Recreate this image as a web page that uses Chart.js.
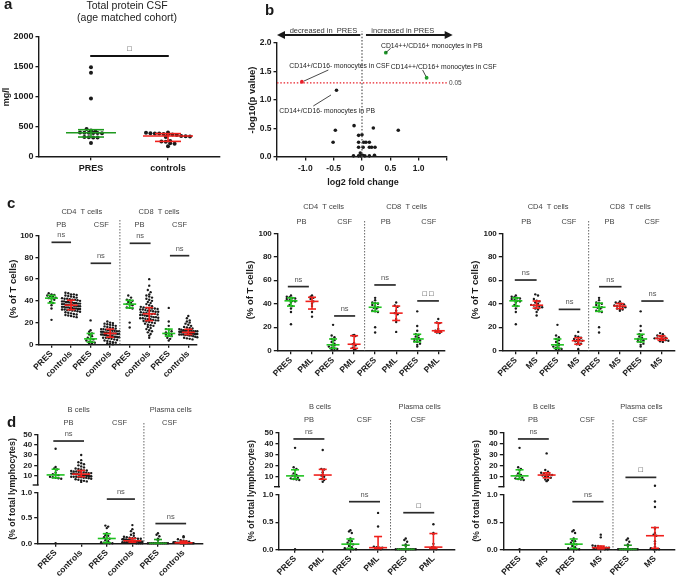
<!DOCTYPE html>
<html>
<head>
<meta charset="utf-8">
<script src="https://cdn.jsdelivr.net/npm/chart.js@4.4.1/dist/chart.umd.min.js"></script>
<style>
html, body { margin: 0; padding: 0; background: #fff; }
#wrap { position: relative; width: 679px; height: 579px; }
#wrap canvas { position: absolute; left: 0; top: 0; }
</style>
</head>
<body>
<div id="wrap"></div>
<script>
// ---------- panel a: total protein CSF ----------
const protCats = ['PRES', 'controls'];
const protPRES = [1490, 1400, 970, 462, 438, 422, 402, 400, 398, 396, 394, 392, 330, 326, 322, 318, 228];
const protCtrl = [405, 400, 390, 385, 385, 380, 375, 370, 360, 345, 340, 335, 330, 260, 255, 250, 225, 215, 175];
const protTicks = [0, 500, 1000, 1500, 2000];

// ---------- panel b: volcano ----------
const volX = [-0.45, -0.14, -0.47, -0.51, 0.20, 0.64, -0.06, 0.00, -0.06, 0.03, 0.07, 0.13, -0.06, 0.02, 0.13, 0.17, 0.23, -0.15, -0.06, -0.02, 0.01, 0.05, 0.13, 0.22, -0.03];
const volY = [1.17, 0.55, 0.47, 0.26, 0.51, 0.47, 0.38, 0.39, 0.26, 0.26, 0.26, 0.26, 0.17, 0.17, 0.17, 0.17, 0.17, 0.02, 0.02, 0.02, 0.03, 0.02, 0.02, 0.03, 0.07];
const volRedX = [-1.06], volRedY = [1.32];
const volGreenX = [0.42, 1.14], volGreenY = [1.83, 1.39];
const volXTicks = [-1.5, -1, -0.5, 0, 0.5, 1, 1.5];
const volYTicks = [0, 0.5, 1, 1.5, 2];
const pCut = 1.3;

// ---------- panel c: T cells ----------
const tTicks = [0, 20, 40, 60, 80, 100];
const catsC1 = ['PRES', 'controls', 'PRES', 'controls', 'PRES', 'controls', 'PRES', 'controls'];
const catsC2 = ['PRES', 'PML', 'PRES', 'PML', 'PRES', 'PML', 'PRES', 'PML'];
const catsC3 = ['PRES', 'MS', 'PRES', 'MS', 'PRES', 'MS', 'PRES', 'MS'];

const presCD4PB = [47, 46, 45.5, 45, 44.5, 44, 43, 42.5, 42, 41, 39, 38, 36, 33, 22.5];
const presCD4CSF = [22, 13, 11.5, 10, 9, 7.5, 6, 5, 4.5, 3.5, 2.5, 2, 1.5, 1, 0.5];
const presCD8PB = [45, 43, 41, 40.5, 40, 39, 38, 37, 36.5, 36, 34, 33.5, 33, 20, 15.5];
const presCD8CSF = [33.5, 21, 17, 14, 13.5, 12, 11, 10, 9.5, 9, 8, 7.5, 6, 5, 3.5];

const ctrlCD4PB = [25, 25.5, 26, 26.5, 27, 27.5, 28, 28.5, 29, 29.5, 30, 30.5, 31, 31, 31.5, 31.5, 32,
  32, 32.5, 32.5, 33, 33, 33.5, 33.5, 34, 34, 34.5, 34.5, 35, 35, 35.5, 35.5, 36,
  36, 36.5, 36.5, 37, 37, 37.5, 37.5, 38, 38, 38.5, 38.5, 39, 39, 39.5, 39.5, 40,
  40.5, 41, 41, 41.5, 42, 42, 42.5, 43, 43.5, 44, 44.5, 45, 45.5, 46, 46, 47, 47.5];
const ctrlCD4CSF = [0, 0.5, 1, 1.5, 2, 2.5, 3, 3.5, 4, 4.5, 5, 5.5, 6, 6, 6.5, 6.5,
  7, 7, 7.5, 7.5, 8, 8, 8.5, 8.5, 9, 9, 9.5, 9.5, 10, 10,
  10, 10.5, 10.5, 11, 11, 11.5, 11.5, 12, 12, 12.5, 12.5, 13, 13, 13.5, 14, 14,
  14.5, 15, 15.5, 16, 16.5, 17, 17.5, 18, 18.5, 19, 19.5, 20, 21];
const ctrlCD8PB = [6, 8, 9.5, 11, 12, 13, 14, 15, 16, 17, 17.5, 18, 19, 19.5, 20, 20.5, 21, 21.5, 22,
  22, 22.5, 23, 23, 23.5, 24, 24, 24.5, 25, 25, 25.5, 26, 26, 26.5, 27, 27, 27.5, 28, 28, 28.5,
  29, 29, 29.5, 30, 30, 30.5, 31, 31, 31.5, 32, 32, 32.5, 33, 33, 33, 33.5, 34, 34.5,
  35, 36, 37, 38, 39, 40, 41, 42, 43, 44, 45, 46, 48, 50, 54, 60];
const ctrlCD8CSF = [4.5, 5, 5.5, 6, 6.5, 7, 7.5, 8, 8, 8.5, 8.5, 9, 9, 9,
  9.5, 9.5, 9.5, 10, 10, 10, 10.5, 10.5, 10.5, 11, 11, 11,
  11, 11.5, 11.5, 11.5, 12, 12, 12, 12.5, 12.5, 13, 13, 13,
  13.5, 14, 14.5, 15, 15.5, 16, 17, 18, 19, 20, 21, 22, 24, 26];

const pmlCD4PB = [47, 46, 45, 44, 42, 40, 38, 33, 29];
const pmlCD4CSF = [13.5, 13, 12.5, 6.5, 5.5, 4.5, 2.5, 1.5, 1];
const pmlCD8PB = [41, 38.5, 37.5, 34, 32, 31, 27, 24.5, 16];
const pmlCD8CSF = [27, 24, 23.5, 18.5, 17, 16.5, 16, 15.5, 15];

const msCD4PB = [48, 47, 44, 42.5, 42, 41, 40, 39, 38.5, 38, 37.5, 37, 36, 35, 33, 30];
const msCD4CSF = [16, 12.5, 12, 11, 10, 9, 9, 8.5, 8, 7, 6, 5.5, 5, 1.5, 0.5];
const msCD8PB = [42, 41, 40.5, 40, 39.5, 38.5, 38, 38, 37.5, 37, 36, 35.5, 35, 34];
const msCD8CSF = [15, 14, 13, 12.5, 12, 11, 10.5, 10.5, 10, 9.5, 9, 8.5, 8, 7.5];

// ---------- panel d: B cells / plasma cells ----------
const bTopTicks = [10, 20, 30, 40, 50];
const bBotTicks = [0, 0.5, 1];
const catsD1 = ['PRES', 'controls', 'PRES', 'controls', 'PRES', 'controls'];
const catsD2 = ['PRES', 'PML', 'PRES', 'PML', 'PRES', 'PML'];
const catsD3 = ['PRES', 'MS', 'PRES', 'MS', 'PRES', 'MS'];

const presBPB = [36, 18.5, 17, 16, 13, 11.5, 11, 10.5, 9, 8.5, 8, 7.5, 7, 0];
const presBCSF = [0.35, 0.33, 0.3, 0.2, 0.16, 0.15, 0.12, 0.1, 0.09, 0.06, 0.04, 0.02, 0.01, 0, 0, 0];
const presPlCSF = [0.2, 0.17, 0.14, 0.09, 0.06, 0, 0, 0, 0, 0, 0, 0, 0, 0, 0, 0, 0];

const ctrlBPB = [4, 4.5, 5, 5.5, 6, 6.5, 7, 7.5, 8, 8, 8.5, 8.5, 9, 9, 9, 9.5, 9.5, 10, 10, 10.5,
  10.5, 11, 11, 11, 11.5, 11.5, 12, 12, 12, 12.5, 12.5, 13, 13, 13.5, 13.5, 14, 14, 14.5, 15, 15,
  16, 16.5, 17, 18, 19, 20, 21, 22, 23, 25, 30];
const ctrlBCSF = [0, 0, 0, 0, 0.01, 0.01, 0.01, 0.02, 0.02, 0.02, 0.02, 0.03, 0.03, 0.03, 0.03, 0.04, 0.04,
  0.04, 0.04, 0.05, 0.05, 0.05, 0.05, 0.06, 0.06, 0.06, 0.07, 0.07, 0.07, 0.08, 0.08, 0.09, 0.09, 0.1,
  0.1, 0.11, 0.12, 0.13, 0.15, 0.17, 0.2, 0.24, 0.28, 0.36];
const ctrlPlCSF = [0.14, 0.12, 0.08, 0.06, 0.05, 0.04, 0.03, 0.02, 0.02, 0.01, 0.01, 0.01, 0, 0, 0, 0, 0, 0, 0, 0, 0, 0];

const pmlBPB = [34, 17, 16.5, 14, 12, 11, 10, 8, 7, 5.5];
const pmlBCSF = [0.67, 0.42, 0.05, 0.04, 0.03, 0.03, 0.02, 0.01, 0];
const pmlPlCSF = [0.46, 0.3, 0.28, 0.1, 0.04, 0.03, 0.02, 0.01, 0];

const msBPB = [31, 16, 14.5, 13.5, 13, 12, 12, 11.5, 11, 10.5, 10, 9, 7.5, 7, 6];
const msBCSF = [0.27, 0.22, 0.07, 0.06, 0.06, 0.05, 0.04, 0.03, 0.03, 0.02, 0.02, 0.01, 0.01, 0, 0];
const msPlCSF = [1.9, 0.88, 0.78, 0.4, 0.38, 0.3, 0.27, 0.25, 0.15, 0.1, 0.05, 0.02, 0, 0, 0];

// ---------- drawing ----------
const W = 679, H = 579;
const FONT = '"Liberation Sans", Arial, sans-serif';
const GREEN = '#1fc21f', DKGREEN = '#1f9a1f', RED = '#f0201c', INK = '#1a1a1a', GREY = '#444';
const wrap = document.getElementById('wrap');

function quant(vals, p) {
  const s = vals.slice().sort((a, b) => a - b), n = s.length;
  let pos = p * (n + 1) - 1;
  pos = Math.min(Math.max(pos, 0), n - 1);
  const lo = Math.floor(pos), hi = Math.ceil(pos);
  return s[lo] + (s[hi] - s[lo]) * (pos - lo);
}

// simple row-based beeswarm, offsets in pixels turned back into x units
function swarm(vals, cx, pxX, pxY, r, maxHalf) {
  const step = 2 * r + 0.4;
  const rows = new Map();
  vals.slice().sort((a, b) => b - a).forEach(v => {
    const k = Math.round(v * pxY / step);
    if (!rows.has(k)) rows.set(k, []);
    rows.get(k).push(v);
  });
  const pts = [];
  rows.forEach(row => {
    const n = row.length;
    let sp = step;
    if (n > 1 && (n - 1) * sp / 2 > maxHalf) sp = 2 * maxHalf / (n - 1);
    row.forEach((v, j) => pts.push({x: cx + (j - (n - 1) / 2) * sp / pxX, y: v}));
  });
  return pts;
}

function seg(ctx, x1, y1, x2, y2) {
  ctx.beginPath(); ctx.moveTo(x1, y1); ctx.lineTo(x2, y2); ctx.stroke();
}

function text(ctx, s, x, y, size, opt = {}) {
  ctx.save();
  ctx.font = (opt.bold ? 'bold ' : '') + size + 'px ' + FONT;
  ctx.fillStyle = opt.color || INK;
  ctx.textAlign = opt.align || 'center';
  ctx.textBaseline = opt.base || 'middle';
  ctx.translate(x, y);
  if (opt.rot) ctx.rotate(opt.rot);
  ctx.fillText(s, 0, 0);
  ctx.restore();
}

function deco(c, o) {
  const ctx = c.ctx;
  const X = v => c.scales.x.getPixelForValue(v);
  const Y = v => c.scales.y.getPixelForValue(v);
  const keep = o.keep || (() => true);
  ctx.save();
  (o.groups || []).forEach(g => {
    const m = quant(g.vals, 0.5);
    if (!keep(m)) return;
    const q1 = Math.max(quant(g.vals, 0.25), o.yr[0]);
    const q3 = Math.min(quant(g.vals, 0.75), o.yr[1]);
    const x = X(g.x);
    ctx.strokeStyle = g.col; ctx.lineWidth = 1.6;
    seg(ctx, x - o.mw, Y(m), x + o.mw, Y(m));
    seg(ctx, x, Y(q1), x, Y(q3));
    seg(ctx, x - o.cw, Y(q1), x + o.cw, Y(q1));
    seg(ctx, x - o.cw, Y(q3), x + o.cw, Y(q3));
  });
  (o.brackets || []).forEach(b => {
    ctx.strokeStyle = o.bcol || '#2a2a2a'; ctx.lineWidth = o.bw || 1.7;
    seg(ctx, X(b.a), Y(b.y), X(b.b), Y(b.y));
    text(ctx, b.t, (X(b.a) + X(b.b)) / 2, Y(b.y) - 7, 7.5, {color: b.t === 'ns' ? '#555' : INK});
  });
  if (o.draw) o.draw(ctx, X, Y);
  ctx.restore();
}

function plot(o) {
  const cv = document.createElement('canvas');
  cv.width = W; cv.height = H;
  wrap.appendChild(cv);
  const A = o.area, showX = !!o.xl;
  const yw = Math.min(45, A.l);
  const xh = showX ? Math.min(45, H - A.b) : 0;
  const xfont = {family: FONT, size: o.xfs || 8.5, weight: 'bold'};
  const yfont = {family: FONT, size: o.yfs || 8, weight: 'bold'};
  const grid = {display: true, drawOnChartArea: false, drawTicks: true, tickLength: 3.5, color: INK, lineWidth: 1.3};
  const border = {color: INK, width: 1.4};
  const pxX = (A.r - A.l) / (o.xr[1] - o.xr[0]);
  const pxY = (A.b - A.t) / (o.yr[1] - o.yr[0]);
  const keep = o.keep || (() => true);
  const sets = (o.groups || []).map(g => ({
    data: swarm(g.vals.filter(keep), g.x, pxX, pxY, o.r, o.half),
    pointRadius: o.r, backgroundColor: INK, borderWidth: 0, clip: false
  })).concat(o.sets || []);
  return new Chart(cv, {
    type: 'scatter',
    data: {datasets: sets},
    options: {
      responsive: false, animation: false, devicePixelRatio: 1, events: [],
      layout: {padding: {left: A.l - yw, top: A.t, right: W - A.r, bottom: H - A.b - xh}},
      plugins: {legend: {display: false}, tooltip: {enabled: false}},
      scales: {
        x: {
          type: 'linear', display: showX, min: o.xr[0], max: o.xr[1],
          afterFit: s => { s.height = xh; },
          afterBuildTicks: s => { s.ticks = o.xt.map(v => ({value: v})); },
          ticks: {autoSkip: false, maxRotation: o.rot || 0, minRotation: o.rot || 0, padding: o.xpad ?? 1,
                  color: INK, font: xfont, callback: (v, i) => (o.xl ? o.xl[i] : '')},
          grid, border
        },
        y: {
          type: 'linear', min: o.yr[0], max: o.yr[1],
          afterFit: s => { s.width = yw; },
          afterBuildTicks: s => { s.ticks = o.yt.map(v => ({value: v})); },
          ticks: {padding: 2, color: INK, font: yfont, callback: v => o.yfmt(v)},
          grid, border
        }
      }
    },
    plugins: [{id: 'deco', afterDatasetsDraw: c => deco(c, o)}]
  });
}

// ---- panel a ----
plot({
  area: {l: 39, t: 36.7, r: 220, b: 156.7},
  xr: [0.325, 2.675], yr: [0, 2000], xt: [1, 2], xl: protCats, rot: 0, xpad: 3, xfs: 9, yfs: 9,
  yt: protTicks, yfmt: v => String(v),
  r: 2, half: 26, mw: 25, cw: 13,
  groups: [{x: 1, vals: protPRES, col: DKGREEN}, {x: 2, vals: protCtrl, col: RED}],
  brackets: [{a: 0.99, b: 2.01, y: 1680, t: '□'}], bcol: '#111', bw: 2,
  draw(ctx, X, Y) {
    text(ctx, 'a', 4, 9, 15, {bold: true, align: 'left', base: 'alphabetic'});
    text(ctx, 'Total protein CSF', 127, 6.5, 10.5, {color: '#222'});
    text(ctx, '(age matched cohort)', 127, 18.5, 10.5, {color: '#222'});
    text(ctx, 'mg/l', 7, 97, 9, {bold: true, rot: -Math.PI / 2});
  }
});

// ---- panel b ----
plot({
  area: {l: 277, t: 43, r: 447, b: 157},
  xr: [-1.5, 1.5], yr: [0, 2], xt: volXTicks, rot: 0, xpad: 3, xfs: 8.5, yfs: 8.5,
  xl: volXTicks.map(v => (Math.abs(v) === 1.5 ? '' : v === 0 ? '0' : v.toFixed(1))),
  yt: volYTicks, yfmt: v => v.toFixed(1),
  sets: [
    {data: volX.map((x, i) => ({x, y: volY[i]})), pointRadius: 1.8, backgroundColor: INK, borderWidth: 0, clip: false},
    {data: volRedX.map((x, i) => ({x, y: volRedY[i]})), pointRadius: 1.9, backgroundColor: '#e8202a', borderWidth: 0, clip: false},
    {data: volGreenX.map((x, i) => ({x, y: volGreenY[i]})), pointRadius: 1.9, backgroundColor: '#1e9a2a', borderWidth: 0, clip: false}
  ],
  draw(ctx, X, Y) {
    ctx.lineWidth = 1.2;
    ctx.setLineDash([1.5, 1.8]);
    ctx.strokeStyle = '#e8202a';
    seg(ctx, X(-1.5), Y(pCut), X(1.5), Y(pCut));
    ctx.strokeStyle = '#555';
    seg(ctx, X(0), Y(0), X(0), Y(2.21));
    ctx.setLineDash([]);
    text(ctx, '0.05', X(1.5) + 2, Y(pCut), 6.5, {color: GREY, align: 'left'});
    // direction arrows
    ctx.fillStyle = INK; ctx.strokeStyle = INK;
    const ay = Y(2.14);
    [[-0.03, -1.5], [0.07, 1.6]].forEach(([a, b]) => {
      const x1 = X(a), x2 = X(b), d = Math.sign(x2 - x1);
      ctx.lineWidth = 2;
      seg(ctx, x1, ay, x2 - d * 6, ay);
      ctx.beginPath(); ctx.moveTo(x2, ay); ctx.lineTo(x2 - d * 8, ay - 4); ctx.lineTo(x2 - d * 8, ay + 4); ctx.closePath(); ctx.fill();
    });
    text(ctx, 'decreased in  PRES', X(-0.68), Y(2.216), 7.5, {color: '#333'});
    text(ctx, 'increased in PRES', X(0.72), Y(2.216), 7.5, {color: '#333'});
    // callouts
    ctx.lineWidth = 0.8; ctx.strokeStyle = INK;
    seg(ctx, X(0.42), Y(1.83), X(0.506), Y(1.907));
    seg(ctx, X(1.07), Y(1.526), X(1.125), Y(1.42));
    seg(ctx, X(-0.594), Y(1.526), X(-1.023), Y(1.333));
    seg(ctx, X(-0.859), Y(0.895), X(-0.547), Y(1.088));
    text(ctx, 'CD14++/CD16+ monocytes in PB', X(0.335), Y(1.947), 6.8, {align: 'left', color: '#222'});
    text(ctx, 'CD14++/CD16+ monocytes in CSF', X(0.506), Y(1.584), 6.8, {align: 'left', color: '#222'});
    text(ctx, 'CD14+/CD16- monocytes in CSF', X(-1.282), Y(1.596), 6.8, {align: 'left', color: '#222'});
    text(ctx, 'CD14+/CD16- monocytes in PB', X(-1.459), Y(0.807), 6.8, {align: 'left', color: '#222'});
    text(ctx, 'b', 265, 15, 15, {bold: true, align: 'left', base: 'alphabetic'});
    text(ctx, '-log10(p value)', 252, 100, 9.5, {bold: true, rot: -Math.PI / 2});
    text(ctx, 'log2 fold change', 363, 183, 9, {bold: true});
  }
});

// ---- panel c ----
function tPanel(o) {
  plot({
    area: o.area, xr: o.xr, yr: [0, 100], xt: [0, 1, 2, 3, 4, 5, 6, 7], xl: o.labels, rot: 45,
    yt: tTicks, yfmt: v => String(v),
    r: 1.2, half: 9, mw: 6.5, cw: 4,
    groups: o.groups, brackets: o.brackets,
    draw(ctx, X, Y) {
      text(ctx, 'CD4  T cells', X(1.55), o.hy[0], 7.5, {color: GREY});
      text(ctx, 'CD8  T cells', X(5.5), o.hy[0], 7.5, {color: GREY});
      ['PB', 'CSF', 'PB', 'CSF'].forEach((s, i) => text(ctx, s, X(0.5 + 2 * i + (i % 2) * 0.05), o.hy[1], 7.5, {color: GREY}));
      ctx.setLineDash([1.5, 1.5]); ctx.strokeStyle = '#555'; ctx.lineWidth = 0.9;
      seg(ctx, X(3.5), o.sepTop, X(3.5), Y(0));
      ctx.setLineDash([]);
      text(ctx, '(% of T cells)', o.yt[0], o.yt[1], 9.5, {bold: true, rot: -Math.PI / 2});
      if (o.extra) o.extra(ctx, X, Y);
    }
  });
}

function tGroups(c1, c2, c3, c4) {
  return [
    {x: 0, vals: presCD4PB, col: GREEN}, {x: 1, vals: c1, col: RED},
    {x: 2, vals: presCD4CSF, col: GREEN}, {x: 3, vals: c2, col: RED},
    {x: 4, vals: presCD8PB, col: GREEN}, {x: 5, vals: c3, col: RED},
    {x: 6, vals: presCD8CSF, col: GREEN}, {x: 7, vals: c4, col: RED}
  ];
}

tPanel({
  area: {l: 39, t: 235.7, r: 196.7, b: 344.3}, xr: [-0.64, 7.43], labels: catsC1,
  groups: tGroups(ctrlCD4PB, ctrlCD4CSF, ctrlCD8PB, ctrlCD8CSF),
  brackets: [{a: 0, b: 1, y: 93.9, t: 'ns'}, {a: 2, b: 3.05, y: 74.6, t: 'ns'},
             {a: 4, b: 5.07, y: 93, t: 'ns'}, {a: 6.06, b: 7.05, y: 81.6, t: 'ns'}],
  hy: [212, 225], sepTop: 220, yt: [13, 289],
  extra(ctx) { text(ctx, 'c', 7, 208, 15, {bold: true, align: 'left', base: 'alphabetic'}); }
});

tPanel({
  area: {l: 277.3, t: 233.3, r: 445, b: 350.7}, xr: [-0.65, 7.32], labels: catsC2,
  groups: tGroups(pmlCD4PB, pmlCD4CSF, pmlCD8PB, pmlCD8CSF),
  brackets: [{a: -0.15, b: 0.85, y: 54.6, t: 'ns'}, {a: 2.05, b: 3.05, y: 29.6, t: 'ns'},
             {a: 3.96, b: 4.98, y: 56, t: 'ns'}, {a: 6, b: 7.03, y: 42.4, t: '□ □'}],
  hy: [207, 222], sepTop: 221, yt: [250, 290]
});

tPanel({
  area: {l: 502.3, t: 233.3, r: 678, b: 350.7}, xr: [-0.65, 7.65], labels: catsC3,
  groups: tGroups(msCD4PB, msCD4CSF, msCD8PB, msCD8CSF),
  brackets: [{a: -0.05, b: 1, y: 60.2, t: 'ns'}, {a: 2.06, b: 3.1, y: 35.2, t: 'ns'},
             {a: 4, b: 5.08, y: 54.5, t: 'ns'}, {a: 6.03, b: 7.1, y: 42.3, t: 'ns'}],
  hy: [207, 222], sepTop: 221, yt: [475, 290]
});

// ---- panel d (broken y axis: two stacked charts) ----
function bPanel(o) {
  const groups = [
    {x: 0, vals: presBPB, col: GREEN}, {x: 1, vals: o.ctrl[0], col: RED},
    {x: 2, vals: presBCSF, col: GREEN}, {x: 3, vals: o.ctrl[1], col: RED},
    {x: 4, vals: presPlCSF, col: DKGREEN}, {x: 5, vals: o.ctrl[2], col: RED}
  ];
  const xt = [0, 1, 2, 3, 4, 5];
  plot({
    area: {l: o.l, t: o.top[0], r: o.r, b: o.top[1]}, xr: o.xr, yr: [1, 50], xt,
    yt: bTopTicks, yfmt: v => String(v), keep: v => v > 1,
    r: 1.2, half: 10, mw: 9, cw: 4, groups, brackets: o.bTop,
    draw(ctx, X, Y) {
      ctx.strokeStyle = INK; ctx.lineWidth = 1.4;
      seg(ctx, X(o.xr[0]) - 5, Y(1), X(o.xr[0]) + 1, Y(1));
      text(ctx, 'B cells', X(0.9), o.hy[0], 7.5, {color: GREY});
      text(ctx, 'Plasma cells', X(4.5), o.hy[0], 7.5, {color: GREY});
      text(ctx, 'PB', X(0.5), o.hy[1], 7.5, {color: GREY});
      text(ctx, 'CSF', X(2.5), o.hy[1], 7.5, {color: GREY});
      text(ctx, 'CSF', X(4.45), o.hy[1], 7.5, {color: GREY});
      if (o.extra) o.extra(ctx, X, Y);
    }
  });
  plot({
    area: {l: o.l, t: o.bot[0], r: o.r, b: o.bot[1]}, xr: o.xr, yr: [0, 1], xt, xl: o.labels, rot: 45,
    yt: bBotTicks, yfmt: v => v.toFixed(1), keep: v => v <= 1,
    r: 1.2, half: 10, mw: 9, cw: 4, groups, brackets: o.bBot,
    draw(ctx, X, Y) {
      ctx.setLineDash([1.5, 1.5]); ctx.strokeStyle = '#555'; ctx.lineWidth = 0.9;
      seg(ctx, X(3.45), o.sepTop, X(3.45), Y(0));
      ctx.setLineDash([]);
      text(ctx, '(% of total lymphocytes)', o.yt[0], o.yt[1], 8.8, {bold: true, rot: -Math.PI / 2});
    }
  });
}

bPanel({
  l: 37.7, r: 203, top: [434.3, 485], bot: [492.7, 543.3], xr: [-0.7, 5.76], labels: catsD1,
  ctrl: [ctrlBPB, ctrlBCSF, ctrlPlCSF],
  bTop: [{a: -0.09, b: 1.11, y: 43.5, t: 'ns'}],
  bBot: [{a: 2, b: 3.1, y: 0.874, t: 'ns'}, {a: 3.9, b: 5.1, y: 0.39, t: 'ns'}],
  hy: [410, 423], sepTop: 423, yt: [13, 489],
  extra(ctx) { text(ctx, 'd', 7, 427, 15, {bold: true, align: 'left', base: 'alphabetic'}); }
});

bPanel({
  l: 279, r: 455, top: [432.3, 486.7], bot: [495, 549.3], xr: [-0.58, 5.78], labels: catsD2,
  ctrl: [pmlBPB, pmlBCSF, pmlPlCSF],
  bTop: [{a: -0.06, b: 1.06, y: 44, t: 'ns'}],
  bBot: [{a: 1.95, b: 3.07, y: 0.877, t: 'ns'}, {a: 3.91, b: 5.03, y: 0.674, t: '□'}],
  hy: [407, 420], sepTop: 420, yt: [252, 491]
});

bPanel({
  l: 503.3, r: 679, top: [432.3, 486.7], bot: [495, 549.3], xr: [-0.6, 5.74], labels: catsD3,
  ctrl: [msBPB, msBCSF, msPlCSF],
  bTop: [{a: -0.06, b: 1.08, y: 44, t: 'ns'}, {a: 3.91, b: 5.05, y: 9.4, t: '□'}],
  bBot: [{a: 1.95, b: 3.1, y: 0.877, t: 'ns'}],
  hy: [407, 420], sepTop: 420, yt: [477, 491]
});
</script>
</body>
</html>
